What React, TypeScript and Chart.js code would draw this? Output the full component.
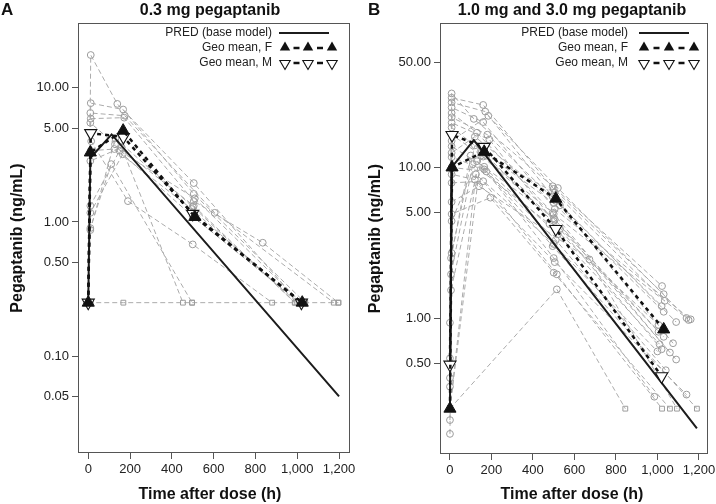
import React, { useEffect, useRef } from "react";
import { Chart, registerables } from "chart.js";
Chart.register(...registerables);

const FONT = '"Liberation Sans", Arial, Helvetica, sans-serif';
const BLQ = 0.25;
type Pt = [number, number];

const X_TICKS = [0, 200, 400, 600, 800, 1000, 1200];
const A_Y_TICKS = [0.05, 0.1, 0.5, 1, 5, 10];
const B_Y_TICKS = [0.5, 1, 5, 10, 50];
const LEGEND_LABELS = ["PRED (base model)", "Geo mean, F", "Geo mean, M"];

// Panel A: 0.3 mg
const A_PRED: Pt[] = [[0, 0.25], [10, 3.0], [112, 4.5], [1200, 0.05]];
const A_GEO_F: Pt[] = [[0, 0.25], [10, 3.3], [167, 4.8], [510, 1.09], [1024, 0.25]];
const A_GEO_M: Pt[] = [[0, 0.25], [12, 4.6], [168, 4.3], [500, 1.15], [1020, 0.25]];
const A_SUBJECTS: Pt[][] = [
  [[0, 0.25], [12, 17.6], [139, 7.6], [505, 1.95], [1010, 0.25]],
  [[0, 0.25], [12, 7.7], [167, 6.9], [505, 1.62], [1038, 0.25]],
  [[0, 0.25], [10, 6.5], [175, 6.2], [605, 1.17], [1175, 0.25]],
  [[0, 0.25], [12, 5.9], [172, 6.0], [505, 1.43], [835, 0.7], [1197, 0.25]],
  [[0, 0.25], [10, 5.5], [128, 3.8], [505, 1.32], [988, 0.25]],
  [[0, 0.25], [14, 4.0], [190, 1.43], [500, 0.68], [880, 0.25]],
  [[0, 0.25], [12, 3.4], [125, 3.5], [495, 1.25], [1000, 0.25]],
  [[0, 0.25], [10, 2.85], [160, 3.6], [453, 0.25]],
  [[0, 0.25], [10, 1.32], [150, 3.4], [510, 1.5], [1020, 0.25]],
  [[0, 0.25], [10, 1.17], [165, 3.2], [500, 1.1], [1010, 0.25]],
  [[0, 0.25], [10, 0.9], [110, 2.7], [497, 0.25]],
  [[0, 0.25], [10, 0.87], [130, 4.2], [500, 1.3], [990, 0.25]],
  [[0, 0.25], [12, 0.25], [168, 0.25], [497, 0.25], [1038, 0.25], [1197, 0.25]],
];

// Panel B: 1.0 mg and 3.0 mg
const B_PRED: Pt[] = [[0, 0.25], [8, 10], [115, 15.2], [1190, 0.185]];
const B_GEO_F: Pt[] = [[0, 0.25], [10, 10], [165, 12.7], [510, 6.2], [1030, 0.84]];
const B_GEO_M: Pt[] = [[0, 0.49], [10, 16.4], [165, 13.7], [510, 3.9], [1020, 0.41]];
const B_SUBJECTS: Pt[][] = [
  [[0, 0.25], [8, 31], [115, 21], [495, 7.5], [1022, 1.63]],
  [[0, 0.25], [8, 29], [160, 26], [500, 7.2], [1030, 1.44]],
  [[0, 0.25], [8, 27], [170, 23.5], [495, 6.4], [1090, 0.94]],
  [[0, 0.25], [8, 25], [160, 20], [505, 5.3], [1160, 0.98]],
  [[0, 0.25], [8, 23], [130, 17], [500, 4.9], [1140, 1.0]],
  [[0, 0.25], [8, 21.5], [180, 16.5], [510, 6.0], [1020, 1.2]],
  [[0, 0.25], [8, 19.8], [190, 15.3], [500, 4.4], [1005, 0.81]],
  [[0, 0.25], [8, 18.4], [150, 13], [530, 3.9], [1020, 0.62]],
  [[0, 0.25], [8, 16.5], [160, 11.8], [495, 5.0], [1060, 0.59]],
  [[0, 0.25], [8, 13.8], [165, 10.1], [500, 4.6], [1090, 0.53]],
  [[0, 0.25], [8, 11.7], [165, 9.7], [510, 3.3], [1040, 0.45]],
  [[0, 0.25], [8, 10], [175, 9.4], [500, 2.5], [985, 0.3]],
  [[0, 0.93], [8, 9.0], [120, 8.3], [505, 2.35], [1140, 0.31]],
  [[0, 0.54], [8, 7.9], [160, 8.1], [515, 1.95], [1022, 0.25]],
  [[0, 0.4], [8, 5.9], [140, 7.5], [672, 2.45], [1094, 0.25]],
  [[0, 0.35], [8, 4.9], [195, 6.3], [500, 2.0], [1060, 0.25]],
  [[0, 0.21], [8, 4.4], [130, 11], [495, 3.0], [1190, 0.25]],
  [[0, 0.17], [8, 2.7], [120, 14], [500, 5.8], [1030, 1.1]],
  [[0, 0.25], [5, 2.5], [100, 12], [520, 3.6], [1010, 0.67]],
  [[0, 0.25], [5, 1.95], [110, 10.5], [480, 4.2], [1005, 0.9]],
  [[0, 0.25], [5, 1.53], [150, 12.5], [505, 6.8], [1035, 1.3]],
  [[0, 0.25], [125, 9.0], [500, 3.1], [1000, 0.6]],
  [[0, 0.25], [150, 12], [505, 4.5], [1030, 0.75]],
  [[0, 0.25], [515, 1.55], [845, 0.25]],
  [[0, 0.25], [8, 15], [185, 22], [520, 7.3], [1150, 0.97]],
  [[0, 0.25], [8, 12.5], [120, 16], [530, 5.6], [1075, 0.68]],
];

type PanelDef = {
  left: number;
  yAxisW: number;
  padRight: number;
  xAxisH: number;
  xMin: number;
  xMax: number;
  yMin: number;
  yMax: number;
  yTicks: number[];
  subjects: Pt[][];
  pred: Pt[];
  geoF: Pt[];
  geoM: Pt[];
  letter: string;
  letterX: number;
  title: string;
  titleCx: number;
  xTitleCx: number;
  legendRight: number;
  sampleX0: number;
  sampleX1: number;
  triX: number[];
  legendY: number[];
};

const PANEL_A: PanelDef = {
  left: 0, yAxisW: 78, padRight: 6, xAxisH: 51,
  xMin: -49, xMax: 1252, yMin: 0.0189, yMax: 30.5, yTicks: A_Y_TICKS,
  subjects: A_SUBJECTS, pred: A_PRED, geoF: A_GEO_F, geoM: A_GEO_M,
  letter: "A", letterX: 1, title: "0.3 mg pegaptanib", titleCx: 210, xTitleCx: 210,
  legendRight: 272, sampleX0: 279, sampleX1: 329, triX: [285, 308, 332], legendY: [33, 48, 63],
};

const PANEL_B: PanelDef = {
  left: 358, yAxisW: 82, padRight: 7, xAxisH: 50,
  xMin: -48, xMax: 1243, yMin: 0.125, yMax: 91, yTicks: B_Y_TICKS,
  subjects: B_SUBJECTS, pred: B_PRED, geoF: B_GEO_F, geoM: B_GEO_M,
  letter: "B", letterX: 10, title: "1.0 mg and 3.0 mg pegaptanib", titleCx: 214, xTitleCx: 214,
  legendRight: 270, sampleX0: 281, sampleX1: 331, triX: [286, 311, 336], legendY: [33, 48, 63],
};

function tri(ctx: CanvasRenderingContext2D, x: number, y: number, r: number, down: boolean, filled: boolean) {
  const s = down ? -1 : 1;
  ctx.beginPath();
  ctx.moveTo(x, y - s * r);
  ctx.lineTo(x + r * 0.866, y + s * r * 0.5);
  ctx.lineTo(x - r * 0.866, y + s * r * 0.5);
  ctx.closePath();
  if (filled) {
    ctx.fillStyle = "#111";
    ctx.fill();
  } else {
    ctx.fillStyle = "#fff";
    ctx.fill();
    ctx.strokeStyle = "#111";
    ctx.lineWidth = 1.1;
    ctx.stroke();
  }
}

function fmtThousands(v: number) {
  return String(v).replace(/\B(?=(\d{3})+(?!\d))/g, ",");
}

function buildConfig(def: PanelDef): any {
  const toXY = (pts: Pt[]) => pts.map(([x, y]) => ({ x, y }));
  const subjectDs = def.subjects.map((s) => ({
    data: toXY(s),
    borderColor: "#ababab",
    borderWidth: 1,
    borderDash: [5, 3],
    pointStyle: s.map((p) => (p[1] === BLQ ? "rect" : "circle")),
    pointRadius: 3.4,
    pointBorderColor: "#9c9c9c",
    pointBackgroundColor: "rgba(255,255,255,0)",
    pointBorderWidth: 1,
    fill: false,
    tension: 0,
    order: 3,
  }));
  const geoF = {
    data: toXY(def.geoF),
    borderColor: "#111",
    borderWidth: 2.5,
    borderDash: [4, 4],
    pointStyle: "triangle",
    pointRadius: 7,
    pointBackgroundColor: "#111",
    pointBorderColor: "#111",
    pointBorderWidth: 1,
    fill: false,
    tension: 0,
    order: 1,
  };
  const geoM = {
    data: toXY(def.geoM),
    borderColor: "#111",
    borderWidth: 2.5,
    borderDash: [4, 4],
    pointStyle: "triangle",
    pointRotation: 180,
    pointRadius: 7,
    pointBackgroundColor: "#fff",
    pointBorderColor: "#111",
    pointBorderWidth: 1.1,
    fill: false,
    tension: 0,
    order: 1,
  };
  const pred = {
    data: toXY(def.pred),
    borderColor: "#1c1c1c",
    borderWidth: 2,
    pointRadius: 0,
    fill: false,
    tension: 0,
    order: 2,
  };

  const decor = {
    id: "decor",
    afterDraw(chart: any) {
      const ctx: CanvasRenderingContext2D = chart.ctx;
      const a = chart.chartArea;
      ctx.save();
      ctx.strokeStyle = "#555";
      ctx.lineWidth = 1;
      ctx.setLineDash([]);
      ctx.strokeRect(Math.round(a.left) + 0.5, Math.round(a.top) + 0.5, Math.round(a.right - a.left) - 1, Math.round(a.bottom - a.top) - 1);
      ctx.fillStyle = "#111";
      ctx.textBaseline = "alphabetic";
      ctx.textAlign = "left";
      ctx.font = `bold 17px ${FONT}`;
      ctx.fillText(def.letter, def.letterX, 15);
      ctx.textAlign = "center";
      ctx.font = `bold 16px ${FONT}`;
      ctx.fillText(def.title, def.titleCx, 15);
      ctx.fillText("Time after dose (h)", def.xTitleCx, 499);
      ctx.font = `12px ${FONT}`;
      ctx.textAlign = "right";
      ctx.textBaseline = "middle";
      ctx.fillStyle = "#222";
      LEGEND_LABELS.forEach((t, i) => ctx.fillText(t, def.legendRight, def.legendY[i]));
      ctx.strokeStyle = "#1c1c1c";
      ctx.lineWidth = 2;
      ctx.beginPath();
      ctx.moveTo(def.sampleX0, def.legendY[0]);
      ctx.lineTo(def.sampleX1, def.legendY[0]);
      ctx.stroke();
      [1, 2].forEach((row) => {
        const y = def.legendY[row];
        ctx.strokeStyle = "#111";
        ctx.lineWidth = 2.5;
        for (let k = 0; k < def.triX.length - 1; k++) {
          const mid = (def.triX[k] + def.triX[k + 1]) / 2;
          ctx.beginPath();
          ctx.moveTo(mid - 3, y);
          ctx.lineTo(mid + 3, y);
          ctx.stroke();
        }
        def.triX.forEach((x) => tri(ctx, x, row === 1 ? y - 0.5 : y + 0.5, 6, row === 2, row === 1));
      });
      ctx.restore();
    },
  };

  const tickFont = { family: FONT, size: 13 };
  return {
    type: "line",
    data: { datasets: [pred, geoF, geoM, ...subjectDs] },
    options: {
      animation: false,
      responsive: false,
      events: [],
      layout: { padding: { left: 0, right: def.padRight, top: 23, bottom: 0 } },
      plugins: { legend: { display: false }, tooltip: { enabled: false }, title: { display: false } },
      scales: {
        x: {
          type: "linear",
          min: def.xMin,
          max: def.xMax,
          afterBuildTicks: (s: any) => {
            s.ticks = X_TICKS.map((v) => ({ value: v }));
          },
          afterFit: (s: any) => {
            s.height = def.xAxisH;
            s.paddingLeft = 0;
            s.paddingRight = 0;
          },
          ticks: {
            callback: (v: any) => fmtThousands(Number(v)),
            font: tickFont,
            color: "#222",
            padding: 3,
            maxRotation: 0,
            autoSkip: false,
          },
          grid: { display: true, drawOnChartArea: false, drawTicks: true, tickLength: 6, color: "#555", lineWidth: 1 },
          border: { display: false },
          title: { display: false },
        },
        y: {
          type: "logarithmic",
          min: def.yMin,
          max: def.yMax,
          afterBuildTicks: (s: any) => {
            s.ticks = def.yTicks.map((v) => ({ value: v }));
          },
          afterFit: (s: any) => {
            s.width = def.yAxisW;
            s.paddingTop = 0;
            s.paddingBottom = 0;
          },
          ticks: {
            callback: (v: any) => Number(v).toFixed(2),
            font: tickFont,
            color: "#222",
            padding: 3,
            autoSkip: false,
          },
          grid: { display: true, drawOnChartArea: false, drawTicks: true, tickLength: 6, color: "#555", lineWidth: 1 },
          border: { display: false },
          title: {
            display: true,
            text: "Pegaptanib (ng/mL)",
            font: { family: FONT, size: 16, weight: "bold" },
            color: "#111",
            padding: { top: 8, bottom: 0 },
          },
        },
      },
    },
    plugins: [decor],
  };
}

function Panel({ def }: { def: PanelDef }) {
  const ref = useRef<HTMLCanvasElement>(null);
  useEffect(() => {
    if (!ref.current) return;
    const chart = new Chart(ref.current, buildConfig(def));
    return () => chart.destroy();
  }, [def]);
  return (
    <canvas
      ref={ref}
      width={358}
      height={504}
      style={{ position: "absolute", left: def.left, top: 0, width: 358, height: 504 }}
    />
  );
}

export default function App() {
  return (
    <div style={{ position: "absolute", left: 0, top: 0, width: 716, height: 504, background: "#fff" }}>
      <Panel def={PANEL_A} />
      <Panel def={PANEL_B} />
    </div>
  );
}
